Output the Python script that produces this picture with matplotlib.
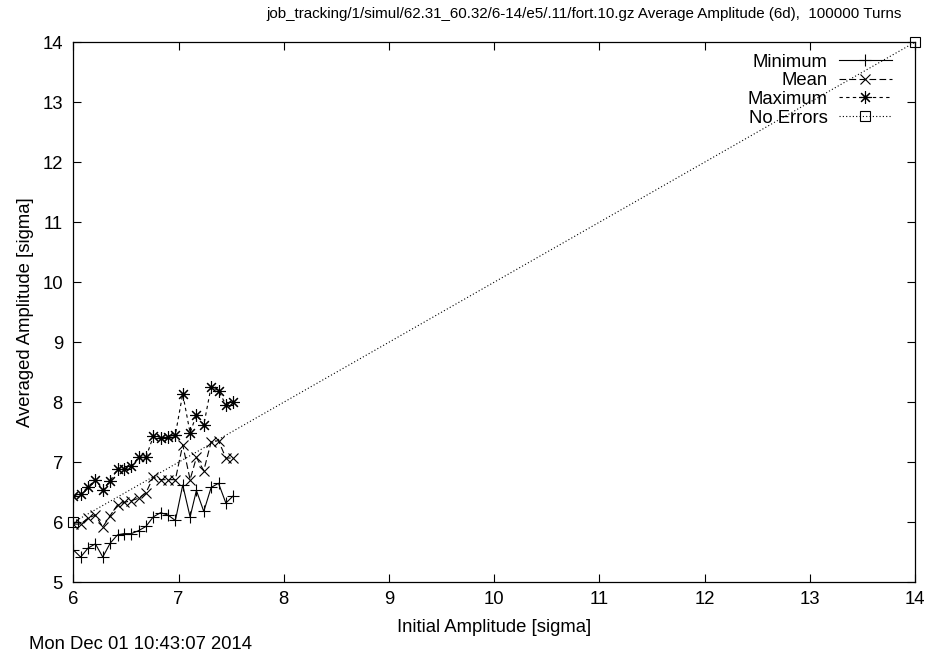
import matplotlib
matplotlib.use("Agg")
import matplotlib.pyplot as plt

plt.rcParams['font.family'] = ['Liberation Sans', 'DejaVu Sans']

# initial amplitudes [sigma]
amp = [6.00, 6.07, 6.14, 6.21, 6.28, 6.35, 6.42, 6.48, 6.55, 6.62, 6.69, 6.76,
       6.83, 6.90, 6.97, 7.04, 7.11, 7.17, 7.24, 7.31, 7.38, 7.45, 7.52]

amp_min = [5.54, 5.42, 5.57, 5.64, 5.42, 5.65, 5.79, 5.81, 5.81, 5.86, 5.93, 6.09,
           6.16, 6.12, 6.03, 6.62, 6.09, 6.53, 6.18, 6.58, 6.65, 6.32, 6.44]
amp_mean = [5.97, 5.97, 6.07, 6.12, 5.92, 6.11, 6.29, 6.33, 6.36, 6.40, 6.49, 6.75,
            6.71, 6.71, 6.71, 7.29, 6.71, 7.08, 6.86, 7.34, 7.36, 7.07, 7.07]
amp_max = [6.44, 6.47, 6.59, 6.71, 6.54, 6.69, 6.88, 6.88, 6.93, 7.08, 7.08, 7.43,
           7.40, 7.42, 7.46, 8.14, 7.49, 7.79, 7.62, 8.26, 8.19, 7.96, 8.01]

no_err_x = [6, 14]
no_err_y = [6, 14]

title = "job_tracking/1/simul/62.31_60.32/6-14/e5/.11/fort.10.gz Average Amplitude (6d),  100000 Turns"
stamp = "Mon Dec 01 10:43:07 2014"

fs = 13.3

fig = plt.figure(figsize=(9.28, 6.66), dpi=100)
ax = fig.add_axes([0.079, 0.1257, 0.907, 0.811])

lw = 0.8
ax.plot(amp, amp_min, color='black', lw=lw, ls='-', marker='+', ms=8, mew=0.8, label='Minimum')
ax.plot(amp, amp_mean, color='black', lw=lw, ls=(0, (6, 3)), marker='x', ms=7, mew=0.8, label='Mean')
ax.plot(amp, amp_max, color='black', lw=lw, ls=(0, (3, 3)), marker=(8, 2, 0), ms=9, mew=0.8, label='Maximum')
ax.plot(no_err_x, no_err_y, color='black', lw=lw, ls=(0, (1, 2)), marker='s', ms=7,
        mfc='none', mew=0.8, label='No Errors', clip_on=False)

ax.set_xlim(6, 14)
ax.set_ylim(5, 14)
ax.set_xticks(range(6, 15))
ax.set_yticks(range(5, 15))
ax.tick_params(direction='in', length=6, width=0.8, top=True, right=True,
               labelsize=fs)
ax.tick_params(axis='x', pad=6)
ax.tick_params(axis='y', pad=7.5)
for s in ax.spines.values():
    s.set_linewidth(0.9)

ax.set_xlabel('Initial Amplitude [sigma]', fontsize=fs, labelpad=8.5)
ax.set_ylabel('Averaged Amplitude [sigma]', fontsize=fs, labelpad=6)

leg = ax.legend(loc='upper right', bbox_to_anchor=(1 - 15.5 / 841.7, 1 - 4.0 / 540),
                markerfirst=False, frameon=False, fontsize=fs,
                handlelength=2.9, handletextpad=0.6, labelspacing=0.09,
                borderaxespad=0.0, numpoints=1)

fig.text(0.629, 0.979, title, fontsize=10.9, ha='center', va='center')
fig.text(0.031, 0.033, stamp, fontsize=fs, ha='left', va='center')

fig.savefig('out.png', dpi=100)
